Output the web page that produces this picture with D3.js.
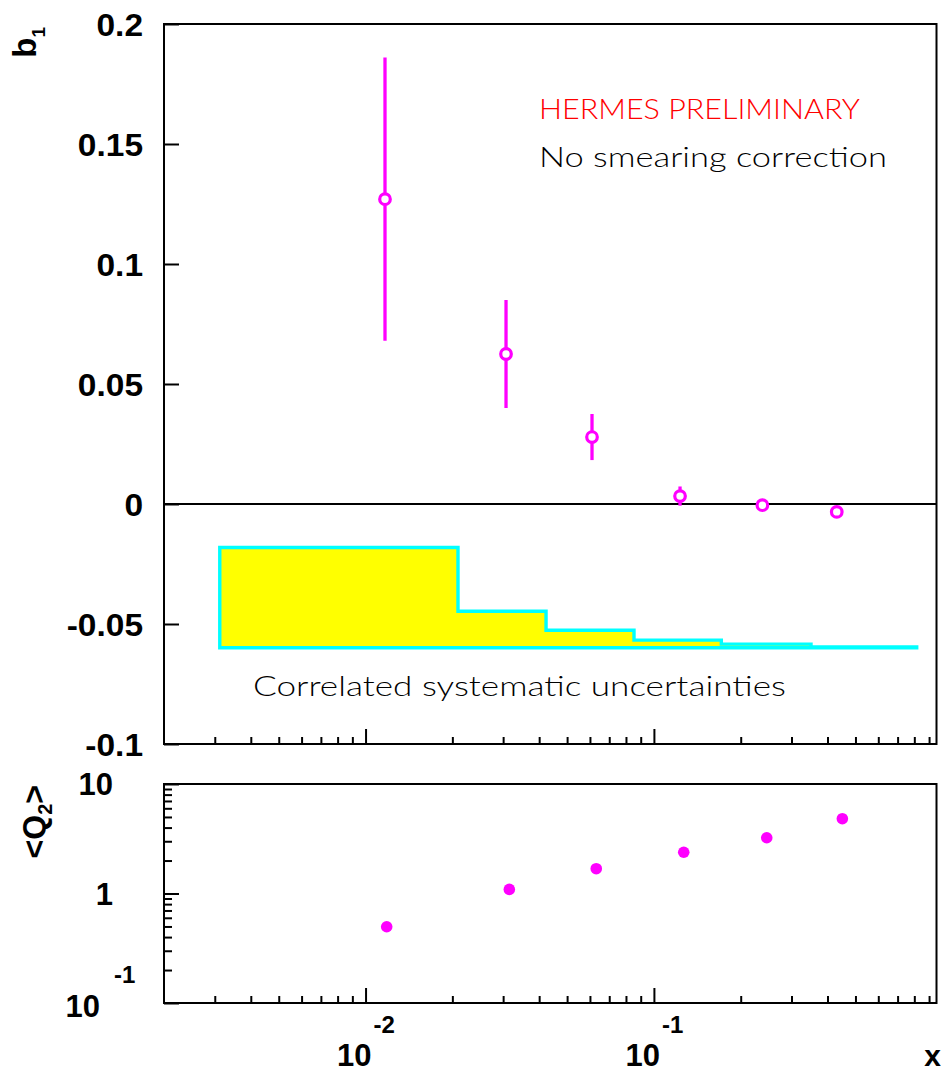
<!DOCTYPE html>
<html><head><meta charset="utf-8">
<script src="https://cdn.jsdelivr.net/npm/d3@7"></script>
<style>
html,body{margin:0;padding:0;background:#fff;}
svg{display:block;}
</style></head>
<body>
<script>
// ---- data ----
const xB1 = [0.01168, 0.0307, 0.0610, 0.1232, 0.2378, 0.4306];
const b1Vals = [0.127, 0.0625, 0.0279, 0.0033, -0.0005, -0.0033];
const b1Errs = [0.059, 0.0225, 0.0096, 0.004, 0.0015, 0.0015];
const xQ2 = [0.01184, 0.03152, 0.0631, 0.1269, 0.2462, 0.4503];
const q2Vals = [0.497, 1.09, 1.685, 2.38, 3.23, 4.82];
const sysEdges = [0.003122, 0.02092, 0.04226, 0.0853, 0.1713, 0.3506, 0.8154];
const sysTop = [-0.0181, -0.0447, -0.0526, -0.0567, -0.0584, -0.0596];
const sysBase = -0.0599;
const b1Ticks = [-0.1, -0.05, 0, 0.05, 0.1, 0.15, 0.2];
const b1TickLabels = ["-0.1", "-0.05", "0", "0.05", "0.1", "0.15", "0.2"];
const xDomain = [0.002, 0.955];
const b1Domain = [-0.1, 0.2];
const q2Domain = [0.1, 10];
const xMajor = [{v: 0.01, base: "10", exp: "-2"}, {v: 0.1, base: "10", exp: "-1"}];
const q2Major = [{v: 10, base: "10", exp: ""}, {v: 1, base: "1", exp: ""}, {v: 0.1, base: "10", exp: "-1"}];
const texts = {hermes: "HERMES PRELIMINARY", smear: "No smearing correction", sys: "Correlated systematic uncertainties"};

// ---- layout ----
const W = 941, H = 1072;
const L = 164, R = 936.5;
const topT = 24, topB = 744, botT = 784, botB = 1003;
const MAG = "#ff00ff";
const BOLD = "'Liberation Sans', Arial, Helvetica, sans-serif";
const THIN = "Lato, 'Open Sans', 'DejaVu Sans', sans-serif";

const svg = d3.select("body").append("svg").attr("width", W).attr("height", H);

const x = d3.scaleLog().domain(xDomain).range([L, R]);
const y = d3.scaleLinear().domain(b1Domain).range([topB, topT]);
const yq = d3.scaleLog().domain(q2Domain).range([botB, botT]);

const isDecade = v => Math.abs(Math.log10(v) - Math.round(Math.log10(v))) < 1e-6;
const xTickVals = x.ticks().filter(v => v > 0.0025 && v < xDomain[1]);

// ---- systematic band ----
const bandData = sysEdges.map((e, i) => ({x: e, t: sysTop[Math.min(i, sysTop.length - 1)]}));
const area = d3.area().curve(d3.curveStepAfter)
  .x(d => x(d.x)).y0(y(sysBase)).y1(d => y(d.t));
svg.append("path").datum(bandData).attr("d", area)
  .attr("fill", "#ffff00").attr("stroke", "#00ffff").attr("stroke-width", 3.4)
  .attr("stroke-linejoin", "miter");

// ---- zero line ----
svg.append("line").attr("x1", L).attr("x2", R).attr("y1", y(0)).attr("y2", y(0))
  .attr("stroke", "#000").attr("stroke-width", 2);

// ---- frames ----
function frame(t, b) {
  svg.append("rect").attr("x", L).attr("y", t).attr("width", R - L).attr("height", b - t)
    .attr("fill", "none").attr("stroke", "#000").attr("stroke-width", 2);
}
frame(topT, topB);
frame(botT, botB);

function styleAxis(g) {
  g.select(".domain").remove();
  g.selectAll(".tick line").attr("stroke", "#000").attr("stroke-width", 2);
}

// top-left axis
const gyl = svg.append("g").attr("transform", `translate(${L},0)`)
  .call(d3.axisLeft(y).tickValues(b1Ticks).tickSize(-15).tickPadding(21)
    .tickFormat((d, i) => b1TickLabels[i]));
styleAxis(gyl);
gyl.selectAll(".tick text").attr("font-family", BOLD).attr("font-weight", "bold")
  .attr("font-size", 31).attr("fill", "#000").attr("dy", "0.36em");
gyl.selectAll(".tick text").each(function () {
  const len = this.getComputedTextLength();
  d3.select(this).attr("textLength", len * 1.08).attr("lengthAdjust", "spacingAndGlyphs");
});

// x axis ticks (both panels)
function xTicksAt(yPos) {
  const g = svg.append("g").attr("transform", `translate(0,${yPos})`)
    .call(d3.axisBottom(x).tickValues(xTickVals).tickSize(-7).tickFormat(""));
  styleAxis(g);
  g.selectAll(".tick line").attr("y2", d => isDecade(d) ? -15 : -7);
  return g;
}
xTicksAt(topB);
xTicksAt(botB);

// bottom-left log axis
const q2TickVals = yq.ticks().filter(v => v >= q2Domain[0] && v <= q2Domain[1]);
const gql = svg.append("g").attr("transform", `translate(${L},0)`)
  .call(d3.axisLeft(yq).tickValues(q2TickVals).tickSize(-8).tickFormat(""));
styleAxis(gql);
gql.selectAll(".tick line").attr("x2", d => isDecade(d) ? 15 : 8);

// ---- tick labels with exponents ----
const labs = svg.append("g");
xMajor.forEach(m => {
  const cx = x(m.v);
  labs.append("text").attr("x", cx + 6).attr("y", 1066).attr("text-anchor", "end")
    .attr("font-family", BOLD).attr("font-weight", "bold").attr("font-size", 31).text(m.base);
  labs.append("text").attr("x", cx + 8).attr("y", 1033)
    .attr("font-family", BOLD).attr("font-weight", "bold").attr("font-size", 24).text(m.exp);
});
q2Major.forEach(m => {
  const cy = yq(m.v);
  if (m.exp) {
    labs.append("text").attr("x", 100).attr("y", cy + 14).attr("text-anchor", "end")
      .attr("font-family", BOLD).attr("font-weight", "bold").attr("font-size", 31).text(m.base);
    labs.append("text").attr("x", 114).attr("y", cy - 20)
      .attr("font-family", BOLD).attr("font-weight", "bold").attr("font-size", 24).text(m.exp);
  } else {
    labs.append("text").attr("x", 113).attr("y", cy + 11).attr("text-anchor", "end")
      .attr("font-family", BOLD).attr("font-weight", "bold").attr("font-size", 31).text(m.base);
  }
});

// axis titles
labs.append("text").attr("x", 941).attr("y", 1066).attr("text-anchor", "end")
  .attr("font-family", BOLD).attr("font-weight", "bold").attr("font-size", 30).text("x");

const b1t = labs.append("text").attr("transform", "translate(36,27) rotate(-90)")
  .attr("text-anchor", "end").attr("font-family", BOLD).attr("font-weight", "bold").attr("font-size", 33);
b1t.append("tspan").text("b");
b1t.append("tspan").attr("font-size", 19).attr("dy", 9).text("1");

const q2t = labs.append("text").attr("transform", "translate(45,785) rotate(-90)")
  .attr("text-anchor", "end").attr("font-family", BOLD).attr("font-weight", "bold").attr("font-size", 32);
q2t.append("tspan").text("<Q");
q2t.append("tspan").attr("font-size", 20).attr("dy", 7).text("2");
q2t.append("tspan").attr("dy", -7).text(">");

// ---- annotations ----
labs.append("text").attr("x", 539).attr("y", 119).attr("fill", "#ff0000")
  .attr("font-family", THIN).attr("font-weight", 300).attr("font-size", 27)
  .attr("textLength", 321).attr("lengthAdjust", "spacingAndGlyphs").text(texts.hermes);
labs.append("text").attr("x", 539).attr("y", 167).attr("fill", "#000")
  .attr("font-family", THIN).attr("font-weight", 300).attr("font-size", 27)
  .attr("textLength", 348).attr("lengthAdjust", "spacingAndGlyphs").text(texts.smear);
labs.append("text").attr("x", 253).attr("y", 696).attr("fill", "#000")
  .attr("font-family", THIN).attr("font-weight", 300).attr("font-size", 27)
  .attr("textLength", 533).attr("lengthAdjust", "spacingAndGlyphs").text(texts.sys);

// ---- b1 points ----
const pts = svg.append("g");
const b1Data = xB1.map((xv, i) => ({x: xv, v: b1Vals[i], e: b1Errs[i]}));
pts.selectAll("line.err").data(b1Data).join("line").attr("class", "err")
  .attr("x1", d => x(d.x)).attr("x2", d => x(d.x))
  .attr("y1", d => y(d.v + d.e)).attr("y2", d => y(d.v - d.e))
  .attr("stroke", MAG).attr("stroke-width", 3.3);
pts.selectAll("circle.pt").data(b1Data).join("circle").attr("class", "pt")
  .attr("cx", d => x(d.x)).attr("cy", d => y(d.v)).attr("r", 5.3)
  .attr("fill", "#fff").attr("stroke", MAG).attr("stroke-width", 3.2);

// ---- Q2 points ----
const q2Data = xQ2.map((xv, i) => ({x: xv, v: q2Vals[i]}));
svg.append("g").selectAll("circle").data(q2Data).join("circle")
  .attr("cx", d => x(d.x)).attr("cy", d => yq(d.v)).attr("r", 5.8).attr("fill", MAG);
</script>
</body></html>
